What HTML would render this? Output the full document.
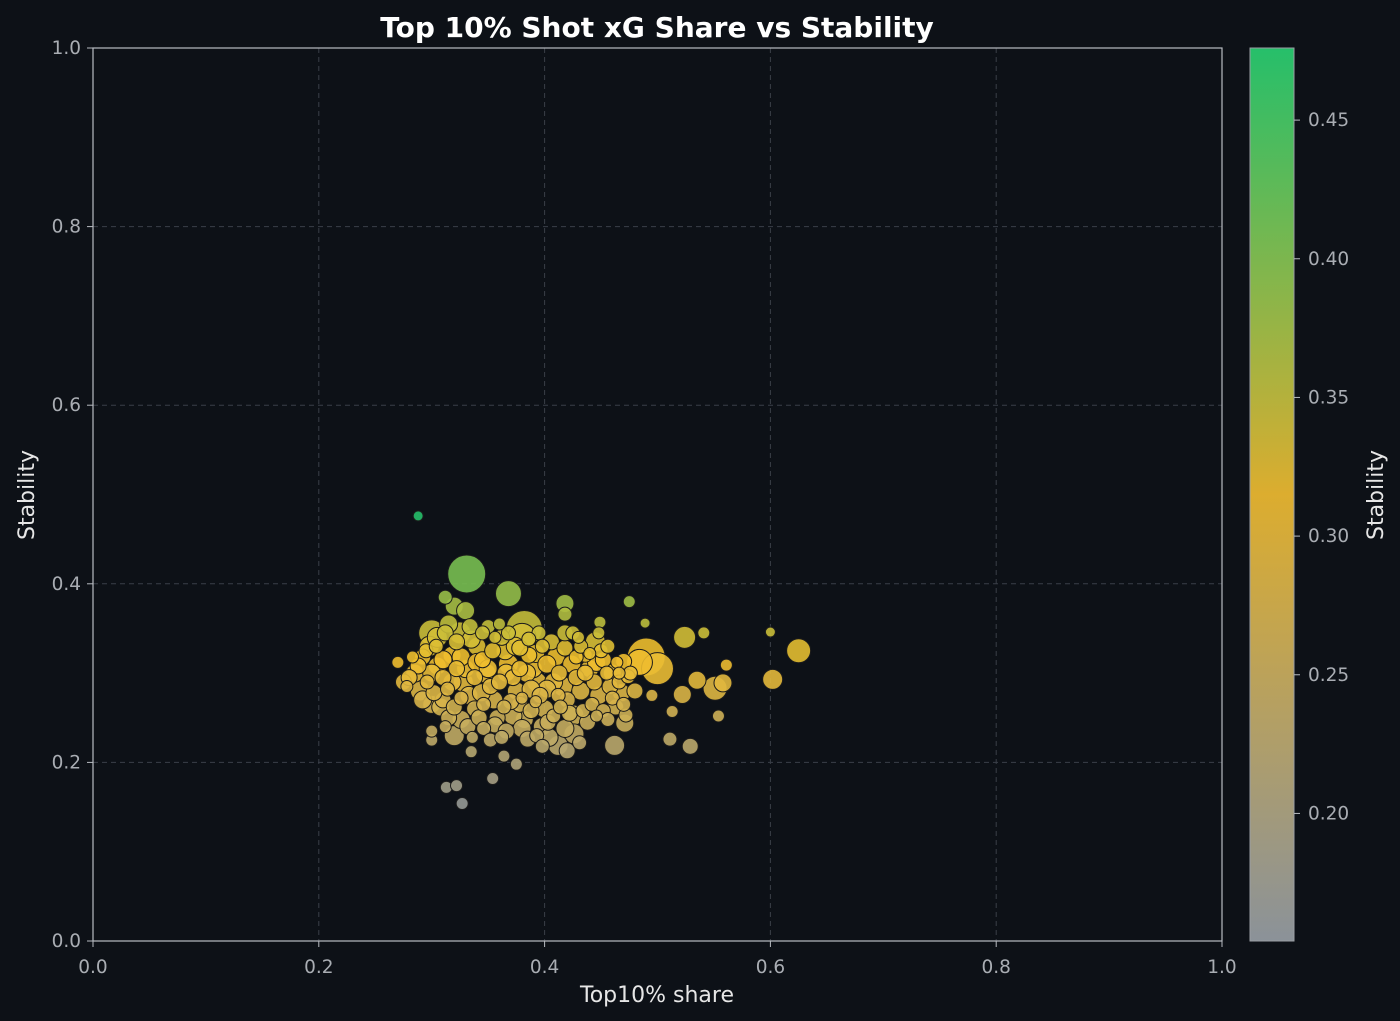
<!DOCTYPE html>
<html><head><meta charset="utf-8"><style>
html,body{margin:0;padding:0;background:#0d1117;}
svg{display:block;font-family:"DejaVu Sans","Liberation Sans",sans-serif;}
</style></head><body>
<svg id="chart" width="1400" height="1021" viewBox="0 0 1400 1021">
<defs>
<linearGradient id="cmap" x1="0" y1="1" x2="0" y2="0">
<stop offset="0" stop-color="#8b9299"/><stop offset="0.5" stop-color="#dcad2f"/><stop offset="1" stop-color="#26bf6a"/>
</linearGradient>
</defs>
<rect x="0" y="0" width="1400" height="1021" fill="#0d1117"/>
<text x="657" y="37" text-anchor="middle" fill="#ffffff" font-size="28" font-weight="bold">Top 10% Shot xG Share vs Stability</text>
<g id="grid"></g>
<g id="points"></g>
<rect x="93" y="48" width="1129" height="893" fill="none" stroke="#b8bcc2" stroke-width="1.2"/>
<g id="axes"></g>
<text x="657" y="1002" text-anchor="middle" fill="#e6e6e6" font-size="22">Top10% share</text>
<text transform="translate(34,495) rotate(-90)" text-anchor="middle" fill="#e6e6e6" font-size="22">Stability</text>
<rect x="1250" y="48" width="44" height="893" fill="url(#cmap)" stroke="#9a9ea4" stroke-width="1"/>
<g id="cbar"></g>
<text transform="translate(1383,495) rotate(-90)" text-anchor="middle" fill="#e6e6e6" font-size="22">Stability</text>
</svg>
<script>
const xs=[0.288,0.331,0.368,0.312,0.320,0.330,0.418,0.418,0.475,0.449,0.489,0.541,0.600,0.625,0.524,0.602,0.561,0.558,0.551,0.535,0.522,0.513,0.554,0.529,0.511,0.490,0.500,0.484,0.480,0.495,0.462,0.471,0.472,0.463,0.460,0.470,0.426,0.431,0.426,0.412,0.420,0.393,0.385,0.375,0.364,0.354,0.335,0.313,0.322,0.327,0.300,0.300,0.382,0.380,0.300,0.325,0.270,0.275,0.278,
0.285,0.292,0.298,0.305,0.310,0.290,0.300,0.310,0.315,0.318,0.322,0.328,0.333,0.338,0.340,0.345,0.348,0.352,0.355,0.358,0.362,0.365,0.368,0.372,0.375,0.378,0.382,0.386,0.390,0.393,0.396,0.400,0.403,0.406,0.410,0.413,0.416,0.420,0.424,0.428,0.432,0.436,0.440,0.444,0.448,0.452,0.455,0.458,0.445,0.450,0.430,0.425,0.395,0.360,0.350,0.335,0.315,0.305,0.295,0.288,0.280,0.283,0.296,0.302,0.308,0.320,0.326,0.332,0.342,0.346,0.356,0.366,0.372,0.380,0.388,0.398,0.404,0.408,0.418,0.422,0.434,0.438,0.442,0.452,0.456,0.460,0.466,0.468,0.474,0.476,0.320,0.312,0.336,0.352,0.362,0.398,0.370,0.360,0.344,0.330,0.318,0.326,0.340,0.354,0.374,0.384,0.392,0.402,0.408,0.418,0.428,0.436,0.446,0.412,0.402,0.388,0.378,0.366,0.350,0.338,0.310,0.300,0.292,0.304,0.312,0.322,0.334,0.345,0.356,0.368,0.378,0.386,0.398,0.418,0.432,0.448,0.440,0.456,0.464,0.466,0.470,0.446,0.414,0.392,0.380,0.364,0.346,0.326,0.314];
const ys=[0.476,0.411,0.389,0.385,0.375,0.370,0.378,0.366,0.380,0.357,0.356,0.345,0.346,0.325,0.340,0.293,0.309,0.289,0.283,0.292,0.276,0.257,0.252,0.218,0.226,0.318,0.305,0.312,0.280,0.275,0.219,0.244,0.253,0.262,0.300,0.313,0.253,0.222,0.232,0.219,0.213,0.230,0.226,0.198,0.207,0.182,0.212,0.172,0.174,0.154,0.225,0.235,0.350,0.340,0.345,0.345,0.312,0.290,0.285,
0.300,0.318,0.330,0.308,0.295,0.280,0.265,0.270,0.250,0.320,0.305,0.290,0.275,0.260,0.330,0.315,0.300,0.285,0.270,0.250,0.340,0.325,0.310,0.295,0.280,0.265,0.248,0.320,0.305,0.290,0.275,0.260,0.245,0.335,0.318,0.300,0.285,0.270,0.310,0.295,0.280,0.320,0.305,0.290,0.275,0.315,0.300,0.285,0.335,0.325,0.340,0.345,0.345,0.355,0.352,0.338,0.355,0.340,0.325,0.308,0.295,0.318,0.290,0.278,0.262,0.262,0.248,0.240,0.250,0.238,0.242,0.235,0.252,0.238,0.258,0.240,0.228,0.252,0.238,0.255,0.258,0.245,0.265,0.258,0.248,0.272,0.290,0.278,0.296,0.300,0.230,0.240,0.228,0.225,0.228,0.218,0.268,0.290,0.278,0.305,0.290,0.318,0.312,0.325,0.330,0.300,0.322,0.310,0.290,0.328,0.318,0.300,0.312,0.275,0.282,0.282,0.305,0.300,0.305,0.295,0.315,0.300,0.270,0.330,0.345,0.335,0.352,0.345,0.340,0.345,0.328,0.338,0.330,0.345,0.330,0.345,0.322,0.330,0.312,0.300,0.265,0.252,0.262,0.268,0.272,0.262,0.265,0.272,0.282];
const sizes=[5,19,13,7,9,9,9,7,6,6,5,6,5,12,11,10,6,9,12,9,9,6,6,8,7,19,16,13,8,6,10,9,7,8,9,8,10,7,10,10,8,7,8,6,6,6,6,6,6,6,6,6,18,14,13,11,6,8,6,
9,8,10,9,8,10,9,8,8,9,8,10,9,8,9,8,10,8,9,8,8,9,10,8,9,8,9,8,9,10,8,9,8,8,9,8,10,8,9,8,9,7,9,8,9,8,7,8,10,7,6,7,7,6,7,9,9,10,7,8,8,6,7,8,9,8,9,8,8,7,8,8,9,9,8,9,9,7,9,8,7,8,7,7,7,7,7,9,7,7,10,6,6,7,7,7,8,8,9,9,9,9,9,8,9,9,9,9,9,8,7,8,9,7,9,9,8,9,9,8,9,9,9,7,8,8,8,7,6,7,8,7,7,8,7,6,6,7,6,6,7,6,7,6,6,7,7,7,7,7,7,7];
const xTicks=["0.0","0.2","0.4","0.6","0.8","1.0"];
const yTicks=["0.0","0.2","0.4","0.6","0.8","1.0"];
const cbTicks=["0.20","0.25","0.30","0.35","0.40","0.45"];
const NS='http://www.w3.org/2000/svg';
const X=v=>93+1129*v, Y=v=>941-893*v;
const cMin=0.154,cMax=0.476;
const CY=v=>941-(v-cMin)/(cMax-cMin)*893;
function lerp(a,b,t){return a.map((c,i)=>Math.round(c+(b[i]-c)*t));}
function cmap(v){let t=Math.max(0,Math.min(1,(v-cMin)/(cMax-cMin)));
 const g=[150,154,150],o=[240,190,45],gr=[38,191,106];
 const c=t<0.5?lerp(g,o,t/0.5):lerp(o,gr,(t-0.5)/0.5);return `rgb(${c[0]},${c[1]},${c[2]})`;}
function mk(tag,attrs,parent){const e=document.createElementNS(NS,tag);for(const k in attrs)e.setAttribute(k,attrs[k]);parent.appendChild(e);return e;}
const grid=document.getElementById('grid'),axes=document.getElementById('axes'),pts=document.getElementById('points'),cb=document.getElementById('cbar');
xTicks.forEach(t=>{const v=parseFloat(t),px=X(v);
 if(v>0&&v<1){const l=mk('line',{x1:px,x2:px,y1:48,y2:941,stroke:'#3a3f48','stroke-dasharray':'5,4','stroke-width':1},grid);
 
 }
 const tk=mk('line',{x1:px,x2:px,y1:941,y2:947,stroke:'#b8bcc2'},axes);
 
 
 const tx=mk('text',{x:px,y:973,'text-anchor':'middle',fill:'#a9adb3','font-size':18.5},axes);tx.textContent=t;
 
 });
yTicks.forEach(t=>{const v=parseFloat(t),py=Y(v);
 if(v>0&&v<1){const l=mk('line',{x1:93,x2:1222,y1:py,y2:py,stroke:'#3a3f48','stroke-dasharray':'5,4','stroke-width':1},grid);
 
 }
 const tk=mk('line',{x1:87,x2:93,y1:py,y2:py,stroke:'#b8bcc2'},axes);
 
 
 const tx=mk('text',{x:81,y:py+6,'text-anchor':'end',fill:'#a9adb3','font-size':18.5},axes);tx.textContent=t;
 
 });
cbTicks.forEach(t=>{const v=parseFloat(t),py=CY(v);
 const tk=mk('line',{x1:1294,x2:1300,y1:py,y2:py,stroke:'#b8bcc2'},cb);
 
 
 const tx=mk('text',{x:1308,y:py+6,fill:'#a9adb3','font-size':18.5},cb);tx.textContent=t;
 
 });
const idx=xs.map((_,i)=>i).sort((a,b)=>sizes[b]-sizes[a]);
idx.forEach(i=>{const c=mk('circle',{cx:X(xs[i]),cy:Y(ys[i]),r:sizes[i],fill:cmap(ys[i]),'fill-opacity':0.9,stroke:'#1b1b1b','stroke-width':1},pts);
 
 });
</script>
</body></html>
